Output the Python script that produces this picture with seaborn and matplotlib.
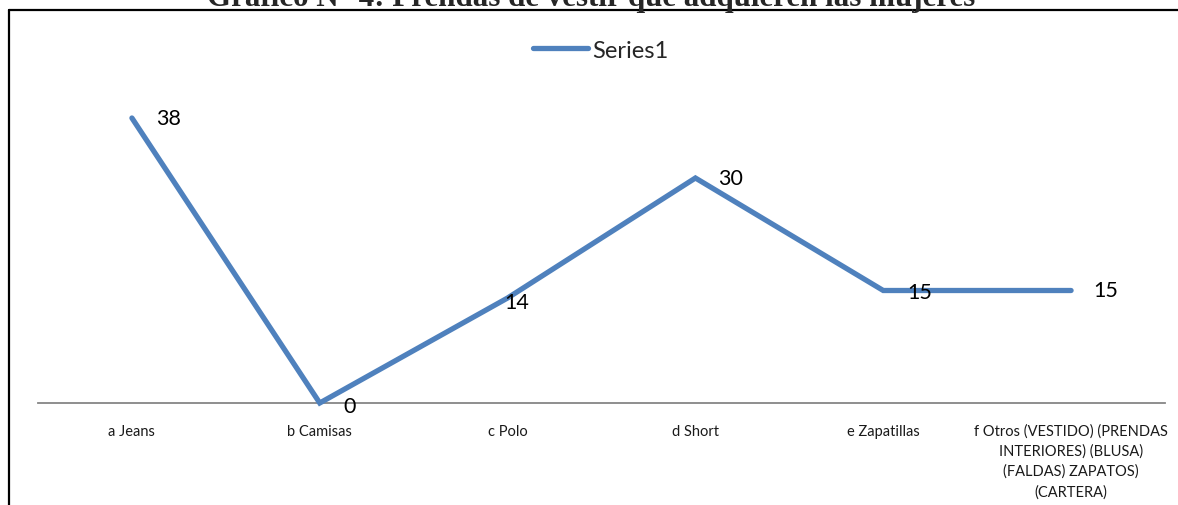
import matplotlib
matplotlib.use("Agg")
import matplotlib.pyplot as plt
from matplotlib.lines import Line2D
import seaborn as sns
import pandas as pd

# Chart data
categories = [
    "a Jeans",
    "b Camisas",
    "c Polo",
    "d Short",
    "e Zapatillas",
    "f Otros (VESTIDO) (PRENDAS\nINTERIORES) (BLUSA)\n(FALDAS) ZAPATOS)\n(CARTERA)",
]
values = [38, 0, 14, 30, 15, 15]
series_name = "Series1"
title = "Gráfico N° 4: Prendas de vestir que adquieren las mujeres"

df = pd.DataFrame({"categoria": categories, "valor": values})

sns.set_theme(style="white")
plt.rcParams["font.family"] = ["Lato", "DejaVu Sans"]

W, H = 1178, 506
fig = plt.figure(figsize=(W / 100, H / 100), dpi=100)
ax = fig.add_axes([38 / W, (H - 404) / H, (1165 - 38) / W, 300 / H])

line_color = "#4F81BD"
sns.lineplot(data=df, x="categoria", y="valor", sort=False, ax=ax,
             color=line_color, linewidth=3.8, label=series_name)
for ln in ax.get_lines():
    ln.set_solid_capstyle("round")
    ln.set_solid_joinstyle("miter")
    ln.set_clip_on(False)

ax.set_xlim(-0.5, len(categories) - 0.5)
ax.set_ylim(0, 40)
ax.set_xlabel("")
ax.set_ylabel("")
ax.set_yticks([])
ax.set_xticks(range(len(categories)))
ax.set_xticklabels(categories, fontsize=10.5, color="#1a1a1a", linespacing=1.5)
ax.tick_params(axis="x", length=0, pad=15)

for side in ["top", "right", "left"]:
    ax.spines[side].set_visible(False)
ax.spines["bottom"].set_color("#868686")
ax.spines["bottom"].set_linewidth(1.3)
ax.spines["bottom"].set_zorder(0)

# Data labels to the right of each point (pixel offsets)
label_offsets = [(24, 0), (24, -3), (-3, -4), (23, 0), (24, -2), (22, 0)]
for i, (v, (dx, dy)) in enumerate(zip(values, label_offsets)):
    ax.annotate(str(v), xy=(i, v), xytext=(dx * 0.72, dy * 0.72),
                textcoords="offset points", ha="left", va="center",
                fontsize=15.5, color="black", annotation_clip=False)

leg = ax.legend(loc="center", bbox_to_anchor=(601 / W, 1 - 51 / H),
                bbox_transform=fig.transFigure, frameon=False,
                fontsize=17, handlelength=2.3, handletextpad=0.2)

# Title and chart frame
fig.text(591 / W, 1 - 6 / H, title, ha="center", va="baseline",
         fontsize=22.3, fontweight="bold", family=["Liberation Serif", "DejaVu Serif"])
fig.add_artist(Line2D([9 / W, 1.0], [1 - 11 / H, 1 - 11 / H],
                      color="black", lw=1.6, transform=fig.transFigure))
fig.add_artist(Line2D([9 / W, 9 / W], [0, 1 - 11 / H],
                      color="black", lw=1.6, transform=fig.transFigure))

fig.savefig("out.png", dpi=100)
